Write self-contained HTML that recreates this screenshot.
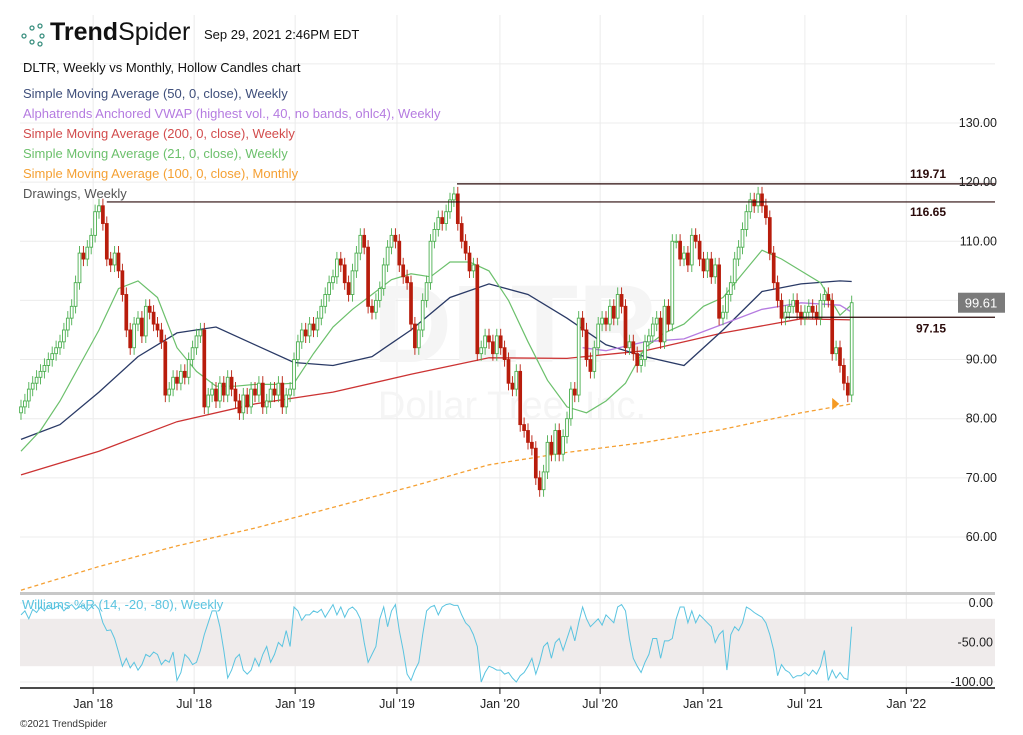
<!DOCTYPE html>
<html><head><meta charset="utf-8"><style>
body{margin:0;background:#fff;font-family:"Liberation Sans",sans-serif;}
#wrap{position:relative;width:1023px;height:735px;overflow:hidden;}
.t{position:absolute;white-space:nowrap;}
</style></head><body>
<div id="wrap">
<svg id="svg" width="1023" height="735" style="position:absolute;left:0;top:0"></svg>
<div class="t" style="left:20px;top:20px;">
 <svg width="28" height="28" style="position:absolute;left:0;top:2px"><g fill="none" stroke="#3a8f7f" stroke-width="1.3"><circle cx="4" cy="14" r="2"/><circle cx="12" cy="6" r="2"/><circle cx="12" cy="20" r="2"/><circle cx="20" cy="4" r="2"/><circle cx="22" cy="14" r="2"/><circle cx="20" cy="22" r="2"/></g></svg>
 <span style="position:absolute;left:30px;top:-2px;font-size:25px;color:#111;"><b>Trend</b>Spider</span>
</div>
<div class="t" style="left:204px;top:27px;font-size:13px;color:#111;">Sep 29, 2021 2:46PM EDT</div>
<div class="t" style="left:23px;top:60px;font-size:13px;color:#111;">DLTR, Weekly vs Monthly, Hollow Candles chart</div>
<div class="t" style="left:23px;top:86px;font-size:13px;color:#3e4e7a;">Simple Moving Average (50, 0, close), Weekly</div>
<div class="t" style="left:23px;top:106px;font-size:13px;color:#b57be0;">Alphatrends Anchored VWAP (highest vol., 40, no bands, ohlc4), Weekly</div>
<div class="t" style="left:23px;top:126px;font-size:13px;color:#d24c4c;">Simple Moving Average (200, 0, close), Weekly</div>
<div class="t" style="left:23px;top:146px;font-size:13px;color:#6cc06c;">Simple Moving Average (21, 0, close), Weekly</div>
<div class="t" style="left:23px;top:166px;font-size:13px;color:#f5a033;">Simple Moving Average (100, 0, close), Monthly</div>
<div class="t" style="left:23px;top:186px;font-size:13px;color:#555;">Drawings, Weekly</div>
<div class="t" style="left:22px;top:597px;font-size:13px;color:#5bc4e0;">Williams %R (14, -20, -80), Weekly</div>
<div class="t" style="left:20px;top:719px;font-size:10px;color:#333;">©2021 TrendSpider</div>
</div>
<script>
const closes=[82,83,85,86,87,88,89,90,91,92,
93,95,97,99,103,108,107,109,111,115,
116,113,107,106,108,105,101,95,92,96,
97,94,99,98,96,95,93,84,85,87,
86,88,87,90,92,94,95,82,84,85,
83,86,84,87,85,83,81,84,82,85,
84,86,82,83,85,84,86,82,84,85,
90,93,95,94,96,95,97,99,101,103,
104,107,106,103,101,105,108,111,109,99,
98,100,102,106,109,111,110,106,104,103,
96,92,95,100,103,110,112,114,113,115,
117,118,113,110,108,105,106,91,92,94,
93,91,94,92,90,86,85,88,79,78,
76,75,70,68,71,76,74,78,74,77,
80,85,84,97,95,90,88,92,96,97,
96,99,97,101,99,92,93,91,89,90,
93,94,96,97,93,99,96,110,110,107,
108,106,111,110,107,105,107,104,106,97,
98,101,103,107,109,112,115,117,116,118,
116,114,108,103,100,97,98,99,100,98,
97,98,99,98,97,100,101,100,91,92,
89,86,84,99.61];
const willR=[-15,-10,-20,-8,-12,-5,-10,-3,-8,-5,
-3,-10,-5,-2,-8,-5,-3,-10,-5,-2,
-8,-25,-35,-34,-45,-62,-80,-70,-82,-75,
-85,-78,-65,-68,-62,-65,-78,-72,-75,-62,
-98,-88,-65,-70,-78,-75,-60,-40,-25,-10,
-10,-30,-60,-95,-85,-70,-65,-85,-90,-85,
-70,-80,-65,-55,-75,-65,-50,-55,-35,-55,
-5,-10,-22,-15,-15,-10,-12,-8,-18,-10,
-2,-15,-5,-18,-8,-5,-10,-20,-50,-75,
-65,-55,-20,-5,-30,-10,-2,-35,-60,-90,
-98,-85,-75,-40,-10,-5,-3,-15,-5,-2,
-1,-3,-3,-15,-25,-30,-40,-55,-100,-88,
-80,-82,-85,-85,-90,-88,-95,-100,-92,-88,
-80,-70,-90,-75,-55,-50,-70,-50,-45,-60,
-45,-30,-48,-25,-5,-20,-30,-25,-20,-28,
-15,-20,-25,-5,-2,-10,-45,-70,-80,-88,
-75,-65,-45,-45,-70,-48,-48,-45,-20,-5,
-5,-25,-10,-25,-15,-20,-25,-30,-50,-40,
-35,-85,-40,-30,-35,-25,-5,-8,-12,-15,
-18,-25,-40,-60,-92,-78,-85,-88,-95,-92,
-92,-88,-92,-85,-90,-80,-60,-98,-85,-95,
-88,-95,-97,-30];
const sma50Idx=[0,10,20,30,40,50,60,70,80,90,100,110,120,130,140,150,160,170,180,190,200,210,213];
const sma50=[76.5,79,84.5,90.5,94.5,95.5,92.5,89.5,89,90.5,95,100.5,102.8,101,97,92.5,90.5,89,95,101.5,102.8,103.3,103.2];
const sma21Idx=[0,5,10,15,20,25,30,35,40,45,50,55,60,65,70,75,80,85,90,95,100,105,110,115,120,125,130,135,140,145,150,155,160,165,170,175,180,185,190,195,200,205,210,213];
const sma21=[74.5,78,83,89,95,102,103.3,100.5,92,88,85.5,85.5,85.8,85.8,86,91,95.5,98.5,101,103.5,104.5,104,106.5,106.5,105,100,93,86.5,82,81,83,86,92,94.5,96,99,100.5,104.5,108.5,107,105,103,97.5,99.3];
const sma200Idx=[0,20,40,60,80,100,120,140,160,180,200,213];
const sma200=[70.5,74.5,79.5,82.5,84.5,87.5,90.3,90.2,91.5,94.5,96.9,96.7];
const sma100mIdx=[0,20,40,60,80,100,120,140,160,180,200,213];
const sma100m=[51,55,58.5,61.5,65,68.5,72.2,74.3,76,78.2,81,82.5];
const vwapIdx=[144,150,160,170,180,190,200,210,213];
const vwap=[92,91.5,93,93.5,96,98.5,99.6,99.2,98];
const priceTicks=[60,70,80,90,100,110,120,130];
const priceTickLabels=["60.00","70.00","80.00","90.00","100.00","110.00","120.00","130.00"];
const wrTicks=[0,-50,-100];
const wrTickLabels=["0.00","-50.00","-100.00"];
const monthIdx=[18.5,44.4,70.3,96.4,122.8,148.5,174.9,201,227];
const monthLabels=["Jan '18","Jul '18","Jan '19","Jul '19","Jan '20","Jul '20","Jan '21","Jul '21","Jan '22"];
const levels=[119.71,116.65,97.15];
const levelStart=[111.8,22,196];

const NS="http://www.w3.org/2000/svg";
const svg=document.getElementById('svg');
const X=i=>21+3.9*i;
const Y=p=>123+(130-p)*5.914;
const WY=v=>603-v*0.79;
function mk(tag,attrs,parent){const e=document.createElementNS(NS,tag);for(const k in attrs)e.setAttribute(k,attrs[k]);(parent||svg).appendChild(e);return e;}

for(let i=0;i<monthIdx.length;i++){const g=mk('line',{x1:X(monthIdx[i]),x2:X(monthIdx[i]),y1:15,y2:688,stroke:'#ececec'});

}
[140].concat(priceTicks).forEach(p=>{const g=mk('line',{x1:20,x2:995,y1:Y(p),y2:Y(p),stroke:'#ececec'});

});
wrTicks.forEach(v=>{const g=mk('line',{x1:20,x2:995,y1:WY(v),y2:WY(v),stroke:'#ececec'});

});

let wm=mk('text',{x:515,y:362,'font-size':110,'font-weight':'bold','text-anchor':'middle',fill:'#f5f5f5','font-family':'Liberation Sans'});wm.textContent='DLTR';


let wm2=mk('text',{x:512,y:418,'font-size':38,'text-anchor':'middle',fill:'#f5f5f5','font-family':'Liberation Sans'});wm2.textContent='Dollar Tree, Inc.';



const band=mk('rect',{x:20,y:WY(-20),width:975,height:WY(-80)-WY(-20),fill:'#efebeb'});



const sep=mk('rect',{x:20,y:592,width:975,height:3,fill:'#c8c8c8'});


const ax=mk('line',{x1:20,x2:995,y1:688,y2:688,stroke:'#111','stroke-width':1.5});



function poly(idx,vals,yf,attrs,name){const pts=vals.map((v,k)=>X(idx?idx[k]:k).toFixed(1)+','+yf(v).toFixed(1)).join(' ');
const e=mk('polyline',Object.assign({points:pts,fill:'none'},attrs));

return e;}

poly(sma100mIdx,sma100m,Y,{stroke:'#f5a033','stroke-width':1.3,'stroke-dasharray':'4,3'},'sma100-monthly-line');
poly(sma200Idx,sma200,Y,{stroke:'#cc3333','stroke-width':1.3},'sma200-line');
poly(sma50Idx,sma50,Y,{stroke:'#2a3a66','stroke-width':1.3},'sma50-line');
poly(sma21Idx,sma21,Y,{stroke:'#6cc06c','stroke-width':1.2},'sma21-line');
poly(vwapIdx,vwap,Y,{stroke:'#b57be0','stroke-width':1.3},'vwap-line');

for(let i=0;i<closes.length;i++){
 const c=closes[i],o=i>0?closes[i-1]:c-1;
 const up=c>=o,hi=Math.max(o,c)+1.2,lo=Math.min(o,c)-1.2;
 const col=up?'#4caf50':'#b81d0c';
 const g=mk('g',{});
 
 
 mk('line',{x1:X(i),x2:X(i),y1:Y(hi),y2:Y(lo),stroke:col,'stroke-width':0.9},g);
 const top=Y(Math.max(o,c)),h=Math.max(1,Y(Math.min(o,c))-top);
 mk('rect',{x:X(i)-1.4,y:top,width:2.8,height:h,fill:up?'#fff':col,stroke:col,'stroke-width':0.9},g);
}

levels.forEach((lv,k)=>{const l=mk('line',{x1:X(levelStart[k]),x2:995,y1:Y(lv),y2:Y(lv),stroke:'#2a0a0a','stroke-width':1.2});


const t=mk('text',{x:946,y:Y(lv)+(k==0?-6:k==1?14:15),'font-size':12,'font-weight':'bold','text-anchor':'end',fill:'#2a0a0a','font-family':'Liberation Sans'});t.textContent=lv.toFixed(2);

});

const tri=mk('polygon',{points:`${X(208)},${Y(sma100m[11])-6} ${X(208)+7},${Y(sma100m[11])} ${X(208)},${Y(sma100m[11])+6}`,fill:'#f59a23'});



poly(null,willR,WY,{stroke:'#5bc4e0','stroke-width':1},'williams-r-line');

priceTicks.forEach((p,k)=>{const t=mk('text',{x:997,y:Y(p)+4,'font-size':12.5,'text-anchor':'end',fill:'#222','font-family':'Liberation Sans'});t.textContent=priceTickLabels[k];

});
wrTicks.forEach((v,k)=>{const t=mk('text',{x:993,y:WY(v)+4,'font-size':12.5,'text-anchor':'end',fill:'#222','font-family':'Liberation Sans'});t.textContent=wrTickLabels[k];

});
monthIdx.forEach((m,k)=>{mk('line',{x1:X(m),x2:X(m),y1:688,y2:694,stroke:'#111'});
const t=mk('text',{x:X(m),y:708,'font-size':12.5,'text-anchor':'middle',fill:'#222','font-family':'Liberation Sans'});t.textContent=monthLabels[k];

});

const last=closes[closes.length-1];
const bx=mk('rect',{x:958,y:Y(last)-10,width:47,height:20,fill:'#7b7b7b'});


const lt=mk('text',{x:981,y:Y(last)+5,'font-size':13,'text-anchor':'middle',fill:'#fff','font-family':'Liberation Sans'});lt.textContent=last.toFixed(2);


</script>
</body></html>
